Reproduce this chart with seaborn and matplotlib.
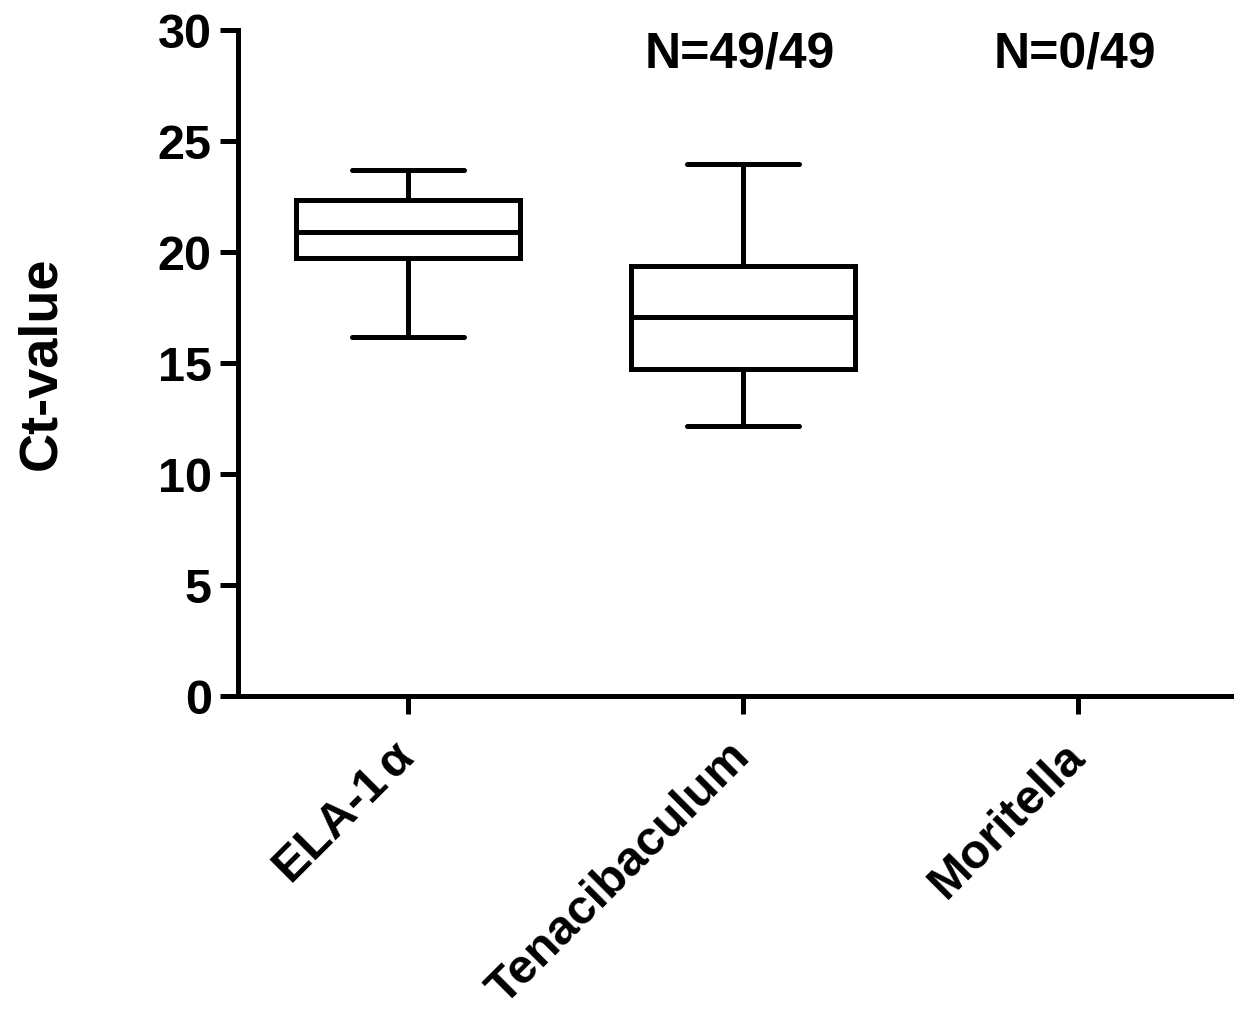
import pandas as pd
import seaborn as sns
import matplotlib.pyplot as plt

# five-number summaries (min, Q1, median, Q3, max)
genes = ['ELA-1α', 'Tenacibaculum', 'Moritella']
tick_text = ['ELA-1$\\,\\alpha$', 'Tenacibaculum', 'Moritella']
ela_ct = [16.17, 19.73, 20.9, 22.34, 23.69]
tenac_ct = [12.16, 14.73, 17.07, 19.37, 23.96]
moritella_ct = []
n_labels = ['', 'N=49/49', 'N=0/49']

rows = []
for g, vals in zip(genes, [ela_ct, tenac_ct, moritella_ct]):
    for v in vals:
        rows.append({'gene': g, 'ct': v})
df = pd.DataFrame(rows)

sns.set_style('ticks')
plt.rcParams['font.family'] = ['Liberation Sans', 'DejaVu Sans']
plt.rcParams['font.weight'] = 'bold'
plt.rcParams['mathtext.fontset'] = 'custom'
plt.rcParams['mathtext.it'] = 'Liberation Sans'
plt.rcParams['mathtext.rm'] = 'Liberation Sans'
for k in ['text.color', 'axes.labelcolor', 'xtick.color', 'ytick.color', 'axes.edgecolor']:
    plt.rcParams[k] = 'black'

fig = plt.figure(figsize=(12.34, 10.17), dpi=100)
ax = fig.add_axes([0.1929, 0.3156, 0.8055, 0.6549])

sns.boxplot(data=df, x='gene', y='ct', order=genes, whis=(0, 100),
            width=0.67, color='white', linecolor='black', linewidth=3.6,
            ax=ax)

for i, lab in enumerate(n_labels):
    if lab:
        ax.text(i - 0.01, 28.9, lab, ha='center', va='center',
                fontsize=36, fontweight='bold')

ax.set_xlim(-0.507, 2.46)
ax.set_ylim(0, 30)
ax.set_yticks([0, 5, 10, 15, 20, 25, 30])
ax.set_xticks(range(len(genes)))
ax.set_xticklabels(tick_text)
sns.despine(ax=ax)
for s in ['left', 'bottom']:
    ax.spines[s].set_linewidth(3.6)
ax.tick_params(axis='both', length=13, width=3.6, labelsize=35)
ax.tick_params(axis='y', pad=6)
ax.tick_params(axis='x', pad=26)
ax.set_xlabel('')
ax.set_ylabel('Ct-value', fontsize=39, fontweight='bold', labelpad=66)
plt.setp(ax.get_xticklabels(), rotation=45, ha='right', va='center',
         rotation_mode='anchor', fontsize=35, fontweight='bold')
plt.setp(ax.get_yticklabels(), fontweight='bold')

plt.savefig('out.png', dpi=100)
